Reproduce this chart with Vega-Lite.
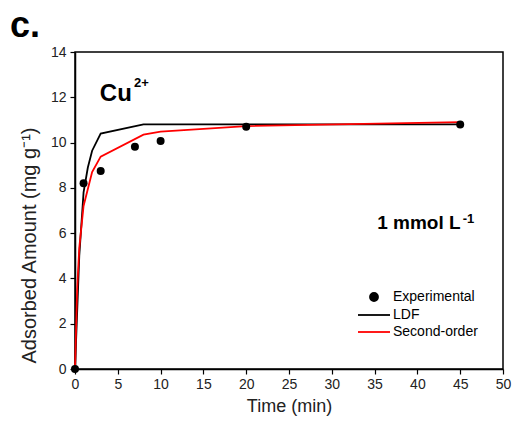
{
  "$schema": "https://vega.github.io/schema/vega-lite/v6.json",
  "width": 428,
  "height": 317,
  "autosize": {"type": "none"},
  "padding": {"left": 75, "top": 52, "right": 9, "bottom": 54},
  "background": "white",
  "config": {
    "view": {"stroke": "black", "strokeWidth": 1.5},
    "font": "Liberation Sans",
    "axis": {
      "grid": false,
      "domainColor": "black",
      "domainWidth": 1.5,
      "tickColor": "black",
      "tickWidth": 1.2,
      "labelFont": "Liberation Sans",
      "labelFontSize": 14,
      "labelColor": "#222222",
      "titleFont": "Liberation Sans",
      "titleFontWeight": "normal",
      "titleColor": "#222222"
    }
  },
  "datasets": {
    "exp": [
      {"t": 0, "q": 0, "series": "Experimental"},
      {"t": 1, "q": 8.2, "series": "Experimental"},
      {"t": 3, "q": 8.75, "series": "Experimental"},
      {"t": 7, "q": 9.82, "series": "Experimental"},
      {"t": 10, "q": 10.07, "series": "Experimental"},
      {"t": 20, "q": 10.7, "series": "Experimental"},
      {"t": 45, "q": 10.8, "series": "Experimental"}
    ],
    "model": [
      {"t": 0, "q": 0, "series": "LDF"},
      {"t": 0.5, "q": 5.0, "series": "LDF"},
      {"t": 1, "q": 7.8, "series": "LDF"},
      {"t": 1.5, "q": 8.9, "series": "LDF"},
      {"t": 2, "q": 9.64, "series": "LDF"},
      {"t": 3, "q": 10.4, "series": "LDF"},
      {"t": 8, "q": 10.8, "series": "LDF"},
      {"t": 10, "q": 10.8, "series": "LDF"},
      {"t": 20, "q": 10.8, "series": "LDF"},
      {"t": 45, "q": 10.8, "series": "LDF"},
      {"t": 0, "q": 0, "series": "Second-order"},
      {"t": 0.25, "q": 3.5, "series": "Second-order"},
      {"t": 0.5, "q": 5.35, "series": "Second-order"},
      {"t": 1, "q": 7.2, "series": "Second-order"},
      {"t": 2, "q": 8.7, "series": "Second-order"},
      {"t": 3, "q": 9.38, "series": "Second-order"},
      {"t": 8, "q": 10.35, "series": "Second-order"},
      {"t": 10, "q": 10.48, "series": "Second-order"},
      {"t": 20, "q": 10.73, "series": "Second-order"},
      {"t": 45, "q": 10.9, "series": "Second-order"}
    ],
    "panel": [
      {"t": -7.6, "q": 14.66, "text": "c."}
    ],
    "cu": [
      {"t": 2.9, "q": 11.82, "text": "Cu"}
    ],
    "conc": [
      {"t": 35.3, "q": 6.2, "text": "1 mmol L"}
    ],
    "sup": [
      {"t": 6.9, "q": 12.45, "text": "2+"},
      {"t": 45.3, "q": 6.45, "text": "-1"}
    ]
  },
  "layer": [
    {
      "data": {"name": "model"},
      "mark": {"type": "line", "strokeWidth": 1.8},
      "encoding": {
        "x": {
          "field": "t", "type": "quantitative",
          "scale": {"domain": [0, 50], "nice": false, "zero": false},
          "axis": {
            "title": "Time (min)",
            "titleFontSize": 18,
            "values": [0, 2.5, 5, 7.5, 10, 12.5, 15, 17.5, 20, 22.5, 25, 27.5, 30, 32.5, 35, 37.5, 40, 42.5, 45, 47.5, 50],
            "labelExpr": "datum.value % 5 === 0 ? datum.label : ''",
            "tickSize": {"condition": {"test": "datum.value % 5 === 0", "value": 5}, "value": 3},
            "labelPadding": 3,
            "labelFlush": false,
            "titlePadding": 6
          }
        },
        "y": {
          "field": "q", "type": "quantitative",
          "scale": {"domain": [0, 14], "nice": false},
          "axis": {
            "title": "Adsorbed Amount (mg g⁻¹)",
            "titleFontSize": 20,
            "titleX": -40,
            "titleY": 193,
            "titleBaseline": "alphabetic",
            "titleAlign": "center",
            "values": [0, 1, 2, 3, 4, 5, 6, 7, 8, 9, 10, 11, 12, 13, 14],
            "labelExpr": "datum.value % 2 === 0 ? datum.label : ''",
            "tickSize": {"condition": {"test": "datum.value % 2 === 0", "value": 5}, "value": 3},
            "labelPadding": 4,
            "labelFlush": false
          }
        },
        "color": {
          "field": "series", "type": "nominal",
          "scale": {"domain": ["Experimental", "LDF", "Second-order"], "range": ["black", "black", "#ff0000"]},
          "legend": {
            "orient": "none",
            "legendX": 292,
            "legendY": 238,
            "title": null,
            "labelFont": "Liberation Sans",
            "labelFontSize": 14,
            "labelColor": "black",
            "labelOffset": 12,
            "rowPadding": 3,
            "symbolSize": 64,
            "encode": {
              "symbols": {
                "update": {
                  "shape": {"signal": "datum.value === 'Experimental' ? 'circle' : 'M-4,0H4'"},
                  "size": {"value": 64},
                  "fill": {"signal": "datum.value === 'Experimental' ? 'black' : 'transparent'"},
                  "stroke": {"scale": "color", "field": "value"},
                  "strokeWidth": {"value": 1.8},
                  "opacity": {"value": 1}
                }
              }
            }
          }
        }
      }
    },
    {
      "data": {"name": "exp"},
      "mark": {"type": "point", "filled": true, "size": 64, "opacity": 1},
      "encoding": {
        "x": {"field": "t", "type": "quantitative"},
        "y": {"field": "q", "type": "quantitative"},
        "color": {"field": "series", "type": "nominal"}
      }
    },
    {
      "data": {"name": "panel"},
      "mark": {"type": "text", "align": "left", "baseline": "alphabetic", "fontSize": 36, "fontWeight": "bold", "font": "Liberation Sans", "color": "black"},
      "encoding": {
        "x": {"field": "t", "type": "quantitative"},
        "y": {"field": "q", "type": "quantitative"},
        "text": {"field": "text"}
      }
    },
    {
      "data": {"name": "cu"},
      "mark": {"type": "text", "align": "left", "baseline": "alphabetic", "fontSize": 24, "fontWeight": "bold", "font": "Liberation Sans", "color": "black"},
      "encoding": {
        "x": {"field": "t", "type": "quantitative"},
        "y": {"field": "q", "type": "quantitative"},
        "text": {"field": "text"}
      }
    },
    {
      "data": {"name": "conc"},
      "mark": {"type": "text", "align": "left", "baseline": "alphabetic", "fontSize": 19, "fontWeight": "bold", "font": "Liberation Sans", "color": "black"},
      "encoding": {
        "x": {"field": "t", "type": "quantitative"},
        "y": {"field": "q", "type": "quantitative"},
        "text": {"field": "text"}
      }
    },
    {
      "data": {"name": "sup"},
      "mark": {"type": "text", "align": "left", "baseline": "alphabetic", "fontSize": 13, "fontWeight": "bold", "font": "Liberation Sans", "color": "black"},
      "encoding": {
        "x": {"field": "t", "type": "quantitative"},
        "y": {"field": "q", "type": "quantitative"},
        "text": {"field": "text"}
      }
    }
  ]
}
